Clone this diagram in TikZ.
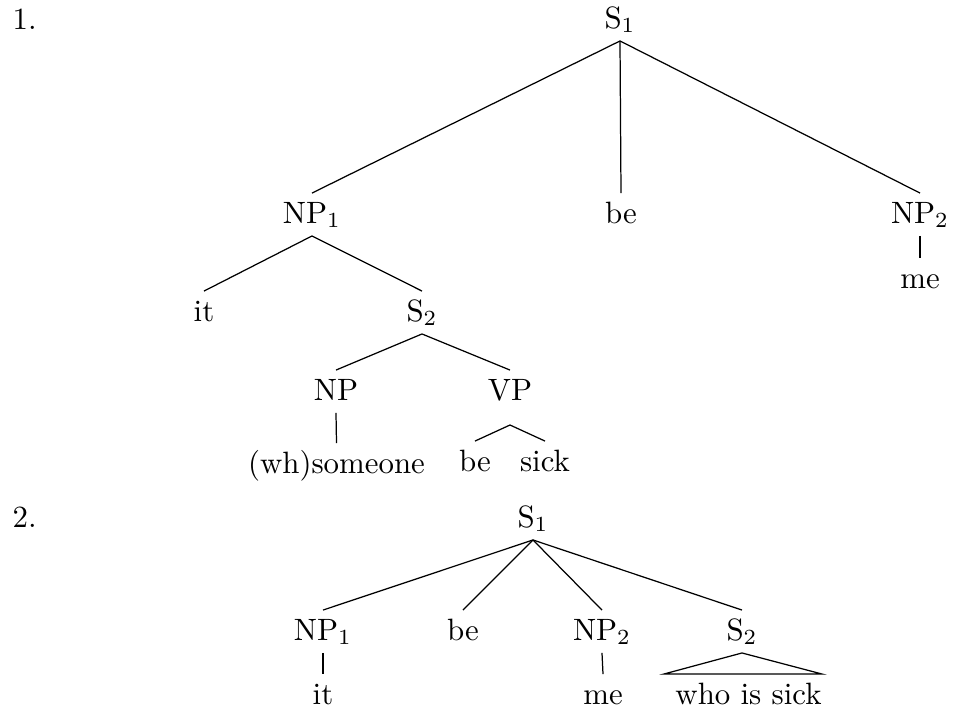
\documentclass[tikz,border=0pt]{standalone}
\begin{document}
\begin{tikzpicture}[x=0.324pt,y=-0.324pt,
  lab/.style={inner xsep=1pt,inner ysep=2.5pt,text height=7pt,text depth=1.5pt,
              anchor=base,font=\fontsize{10}{12}\selectfont},
  branch/.style={line width=0.4pt}]
\useasboundingbox (0,0) rectangle (955,708);

% ---- Tree 1 ----
\node[lab,anchor=base west] (n1) at (9,29) {1.};
\node[lab] (a-s1)   at (620,28)  {S$_1$};
\node[lab] (a-np1)  at (312,223) {NP$_1$};
\node[lab] (a-be)   at (621,223) {be};
\node[lab] (a-np2)  at (920,223) {NP$_2$};
\node[lab] (a-me)   at (920,288) {me};
\node[lab] (a-it)   at (204,321) {it};
\node[lab] (a-s2)   at (422,321) {S$_2$};
\node[lab] (a-np)   at (336,400) {NP};
\node[lab] (a-vp)   at (510,400) {VP};
\node[lab] (a-wh)   at (336.5,473) {(wh)someone};
\node[lab] (a-vbe)  at (475,471) {be};
\node[lab] (a-sick) at (545,471) {sick};
% the VP fork starts a little below its label
\coordinate (a-vpfork) at ([yshift=-3.9pt]a-vp.south);

\draw[branch] (a-s1.south) -- (a-np1.north);
\draw[branch] (a-s1.south) -- (a-be.north);
\draw[branch] (a-s1.south) -- (a-np2.north);
\draw[branch] (a-np2.south) -- (a-me.north);
\draw[branch] (a-np1.south) -- (a-it.north);
\draw[branch] (a-np1.south) -- (a-s2.north);
\draw[branch] (a-s2.south) -- (a-np.north);
\draw[branch] (a-s2.south) -- (a-vp.north);
\draw[branch] (a-np.south) -- (a-wh.north);
\draw[branch] (a-vpfork) -- (a-vbe.north);
\draw[branch] (a-vpfork) -- (a-sick.north);

% ---- Tree 2 ----
\node[lab,anchor=base west] (n2) at (9,527) {2.};
\node[lab] (b-s1)  at (533,527) {S$_1$};
\node[lab] (b-np1) at (323,640) {NP$_1$};
\node[lab] (b-be)  at (463,640) {be};
\node[lab] (b-np2) at (602,640) {NP$_2$};
\node[lab] (b-s2)  at (742,640) {S$_2$};
\node[lab] (b-it)  at (323,704) {it};
\node[lab] (b-me)  at (603,704) {me};
\node[lab,inner xsep=0pt] (b-wis) at (748.5,704) {who is sick};

\draw[branch] (b-s1.south) -- (b-np1.north);
\draw[branch] (b-s1.south) -- (b-be.north);
\draw[branch] (b-s1.south) -- (b-np2.north);
\draw[branch] (b-s1.south) -- (b-s2.north);
\draw[branch] (b-np1.south) -- (b-it.north);
\draw[branch] (b-np2.south) -- (b-me.north);
% roof over the unanalysed clause
\draw[branch] (b-s2.south) -- (b-wis.north east) -- ([xshift=-3.6pt]b-wis.north west) -- cycle;
\end{tikzpicture}
\end{document}
